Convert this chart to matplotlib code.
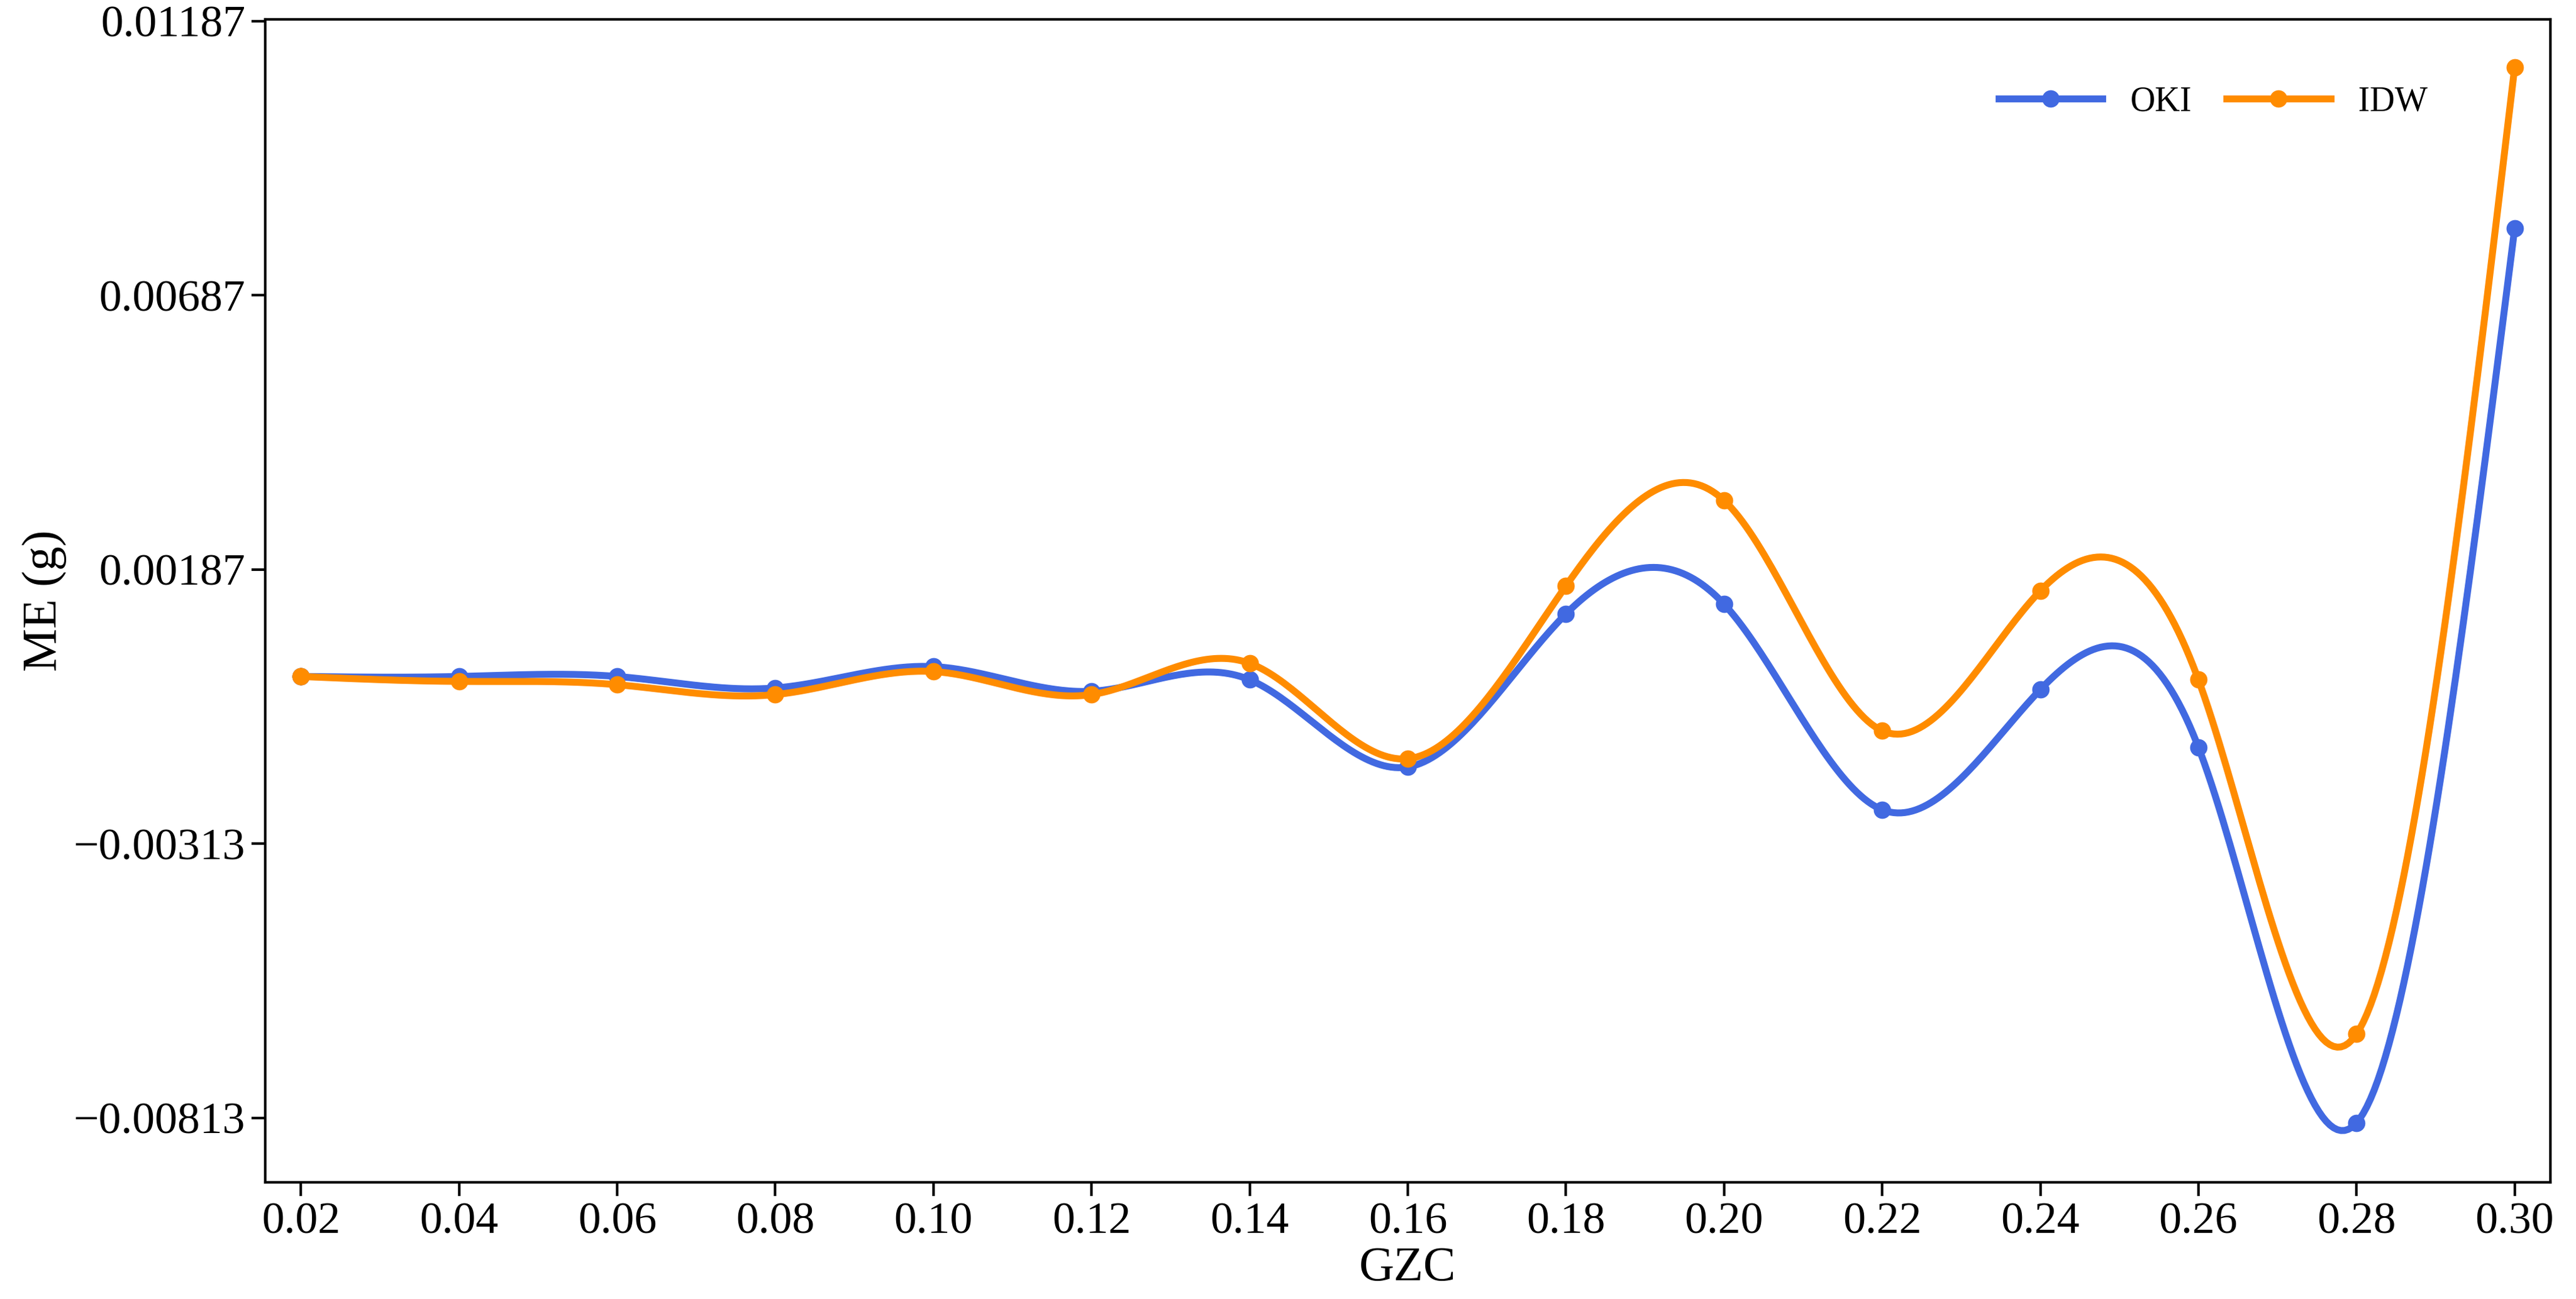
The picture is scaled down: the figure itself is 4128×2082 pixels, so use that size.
import numpy as np
import matplotlib
matplotlib.use("Agg")
import matplotlib.pyplot as plt

# ── Data ──────────────────────────────────────────────────────────────────────
gzc = [0.02, 0.04, 0.06, 0.08, 0.10, 0.12, 0.14, 0.16, 0.18, 0.20, 0.22, 0.24, 0.26, 0.28, 0.30]
oki = [-0.00008, -0.00008, -0.00008, -0.00029, 0.00010, -0.00035, -0.00014, -0.00173,
       0.00106, 0.00124, -0.00251, -0.00032, -0.00137, -0.00822, 0.00809]
idw = [-0.00008, -0.00017, -0.00023, -0.00041, 0.00001, -0.00041, 0.00016, -0.00158,
       0.00157, 0.00313, -0.00107, 0.00148, -0.00014, -0.00660, 0.01103]
yticks = [-0.00813, -0.00313, 0.00187, 0.00687, 0.01187]
xticks = gzc


def natural_spline(x, y, n=600):
    x = np.asarray(x, float)
    y = np.asarray(y, float)
    h = np.diff(x)
    m = len(x)
    A = np.zeros((m, m))
    b = np.zeros(m)
    A[0, 0] = A[-1, -1] = 1
    for i in range(1, m - 1):
        A[i, i - 1] = h[i - 1]
        A[i, i] = 2 * (h[i - 1] + h[i])
        A[i, i + 1] = h[i]
        b[i] = 6 * ((y[i + 1] - y[i]) / h[i] - (y[i] - y[i - 1]) / h[i - 1])
    M = np.linalg.solve(A, b)
    xs = np.linspace(x[0], x[-1], n)
    idx = np.clip(np.searchsorted(x, xs) - 1, 0, m - 2)
    x0, x1 = x[idx], x[idx + 1]
    hh = x1 - x0
    t0, t1 = x1 - xs, xs - x0
    ys = (M[idx] * t0**3 + M[idx + 1] * t1**3) / (6 * hh) \
        + (y[idx] / hh - M[idx] * hh / 6) * t0 + (y[idx + 1] / hh - M[idx + 1] * hh / 6) * t1
    return xs, ys


plt.rcParams["font.family"] = ["Liberation Serif", "DejaVu Serif"]
fig = plt.figure(figsize=(20.64, 10.41), dpi=200)
ax = fig.add_axes([0.103, 0.09, 0.887, 0.895])

for vals, color, label in [(oki, "#4169E1", "OKI"), (idw, "#FF8C00", "IDW")]:
    xs, ys = natural_spline(gzc, vals)
    ax.plot(xs, ys, color=color, lw=4, label=label, marker="o", markevery=[0], ms=9)
    ax.plot(gzc, vals, "o", color=color, ms=9)

ax.set_xlim(0.0155, 0.3045)
ax.set_ylim(-0.0093, 0.0119)
ax.set_xticks(xticks)
ax.set_xticklabels([f"{v:.2f}" for v in xticks])
ax.set_yticks(yticks)
ax.set_yticklabels([f"{v:.5f}".replace("-", "\u2212") for v in yticks])
ax.tick_params(labelsize=26, length=8, width=1.5)
ax.set_xlabel("GZC", fontsize=28, labelpad=2)
ax.set_ylabel("ME (g)", fontsize=28)
for s in ax.spines.values():
    s.set_linewidth(1.5)
ax.legend(loc="upper right", bbox_to_anchor=(0.96, 0.97), frameon=False, fontsize=20,
          ncol=2, handlelength=3, columnspacing=1.0)

fig.savefig("out.png", dpi=200)
